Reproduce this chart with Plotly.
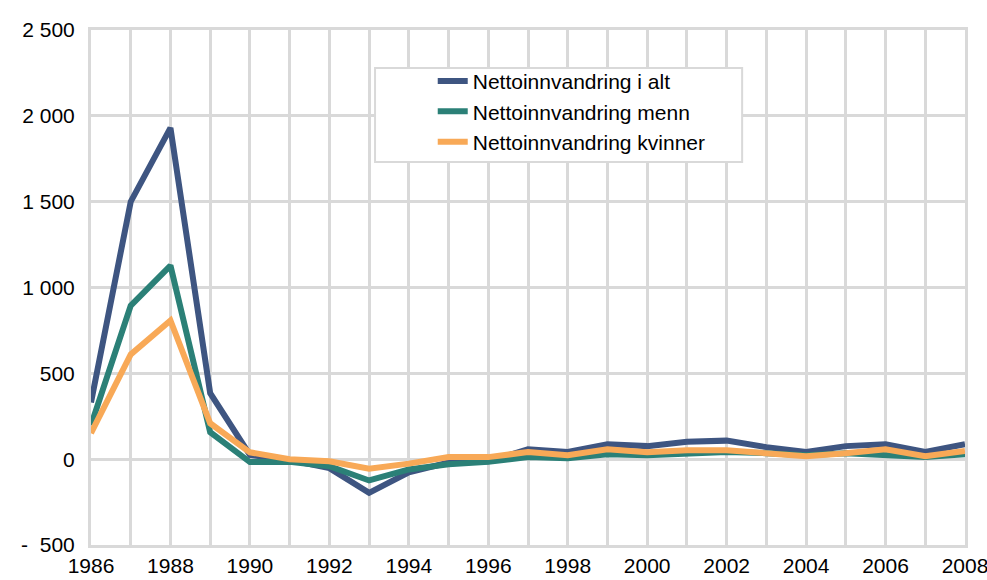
import plotly.graph_objects as go

# Data
years = list(range(1986, 2009))
alt = [330, 1500, 1930, 385, 25, -5, -52, -196, -77, -20, -12, 58, 42, 87, 76, 101, 108, 70, 42, 76, 87, 42, 87]
menn = [198, 895, 1128, 157, -17, -15, -41, -124, -60, -30, -15, 12, 6, 29, 23, 35, 42, 35, 23, 35, 23, 12, 29]
kvinner = [151, 610, 808, 209, 40, 0, -12, -55, -26, 12, 12, 41, 23, 58, 41, 52, 52, 35, 17, 35, 58, 17, 48]

series = [
  ("Nettoinnvandring i alt", alt, "#3e5581"),
  ("Nettoinnvandring menn", menn, "#2b8077"),
  ("Nettoinnvandring kvinner", kvinner, "#f8a957"),
]

y_ticks = [-500, 0, 500, 1000, 1500, 2000, 2500]
y_labels = ["-  500", "0", "500", "1 000", "1 500", "2 000", "2 500"]

fig = go.Figure()
for name, vals, color in series:
  fig.add_trace(go.Scatter(
    x=years, y=vals, mode="lines", name=name,
    line=dict(color=color, width=6)))

grid = "#d9d9d9"
fig.update_layout(
  width=987, height=580,
  margin=dict(l=91, r=22, t=30, b=35),
  plot_bgcolor="white", paper_bgcolor="white",
  font=dict(family="Liberation Sans, Arial, sans-serif", size=21, color="black"),
  legend=dict(
    x=0.391, y=0.94, xanchor="left", yanchor="top",
    bgcolor="rgba(0,0,0,0)", borderwidth=0,
    font=dict(size=21), tracegroupgap=0),
  showlegend=True,
)
# legend frame
fig.add_shape(type="rect", xref="paper", yref="paper",
  x0=0.325, x1=0.745, y0=0.7437, y1=0.926,
  fillcolor="white", line=dict(color=grid, width=2), layer="above")

fig.update_xaxes(
  range=[1986, 2008], tickmode="array", tickvals=list(range(1986, 2009, 2)),
  showgrid=True, gridcolor=grid, gridwidth=3,
  showline=True, linecolor=grid, linewidth=3, mirror=True,
  zeroline=False, ticks="", automargin=False, ticklabeloverflow="allow")
# vertical gridlines every year
fig.update_xaxes(minor=dict(tickvals=list(range(1987, 2009, 2)), showgrid=True, gridcolor=grid, gridwidth=3))
fig.update_yaxes(
  range=[-500, 2500], tickvals=y_ticks, ticktext=y_labels,
  showgrid=True, gridcolor=grid, gridwidth=3,
  showline=True, linecolor=grid, linewidth=3, mirror=True,
  zeroline=False, ticks="", ticklabelstandoff=9, automargin=False)

fig.write_html("out.html", config={"displayModeBar": False},
  post_script="document.body.style.margin='0';")
